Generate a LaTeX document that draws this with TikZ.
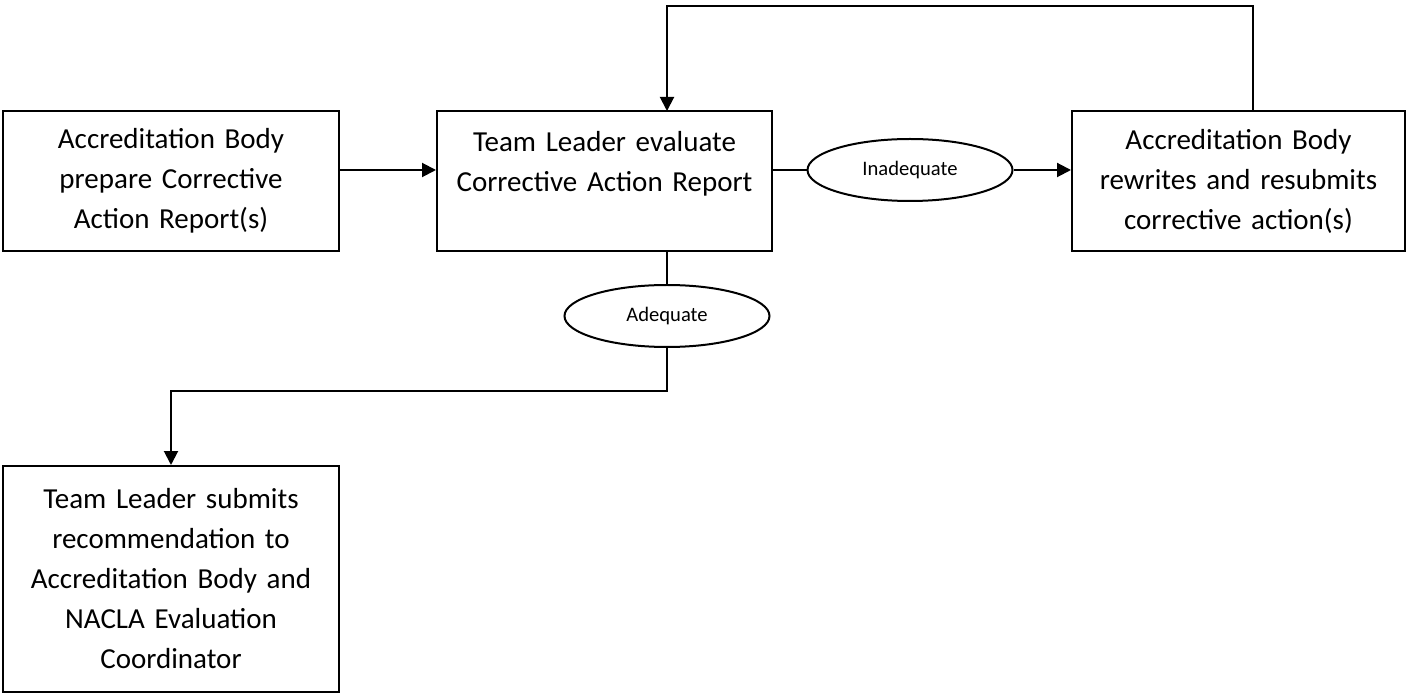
\documentclass[tikz,border=0pt]{standalone}
\usepackage{fontspec}
\setmainfont{Carlito}
\usepackage{tikz}
\usetikzlibrary{arrows.meta, positioning, shapes.geometric}

\begin{document}
\begin{tikzpicture}[x=0.5pt, y=-0.5pt,
  box/.style={draw, line width=1pt, minimum width=168pt, minimum height=70pt,
    text width=160pt, inner sep=0pt, align=center,
    font=\fontsize{14.5}{20}\selectfont},
  oval/.style={draw, ellipse, line width=1pt, minimum width=102.5pt,
    minimum height=31pt, inner sep=0pt, font=\fontsize{10.3}{12}\selectfont},
  line/.style={line width=1pt},
  arrow/.style={line width=1pt, -{Triangle[length=7pt,width=7pt]}}]

\useasboundingbox (0,0) rectangle (1406,694);

% Boxes
\node[box] (prep) at (171,181) {Accreditation Body\\prepare Corrective\\Action Report(s)};
\node[box, minimum width=167.5pt] (eval) at (604.5,181) {Team Leader evaluate\\Corrective Action Report\\ \mbox{}};
\node[box, minimum width=166.5pt] (rewrite) at (1238.5,181) {Accreditation Body\\rewrites and resubmits\\corrective action(s)};
\node[box, minimum height=113pt] (submit) at (171,579) {Team Leader submits\\recommendation to\\Accreditation Body and\\NACLA Evaluation\\Coordinator};

% Decisions
\node[oval] (inadequate) at (910,170) {Inadequate};
\node[oval] (adequate) at (667,316) {Adequate};

% Connectors
\draw[arrow] (prep.east |- inadequate) -- (eval.west |- inadequate);
\draw[line] (eval.east |- inadequate) -- (inadequate.west);
\draw[arrow] (inadequate.east) -- (rewrite.west |- inadequate);

\coordinate (fbtop) at (0,6);
\coordinate (fbout) at (1253,111);
\coordinate (fbin) at (667,111);
\draw[arrow] (fbout) -- (fbout |- fbtop) -| (fbin);

\coordinate (bend) at (0,391);
\draw[line] (adequate.north |- eval.south) -- (adequate.north);
\draw[arrow] (adequate.south) -- (adequate.south |- bend) -| (submit.north);

\end{tikzpicture}
\end{document}
